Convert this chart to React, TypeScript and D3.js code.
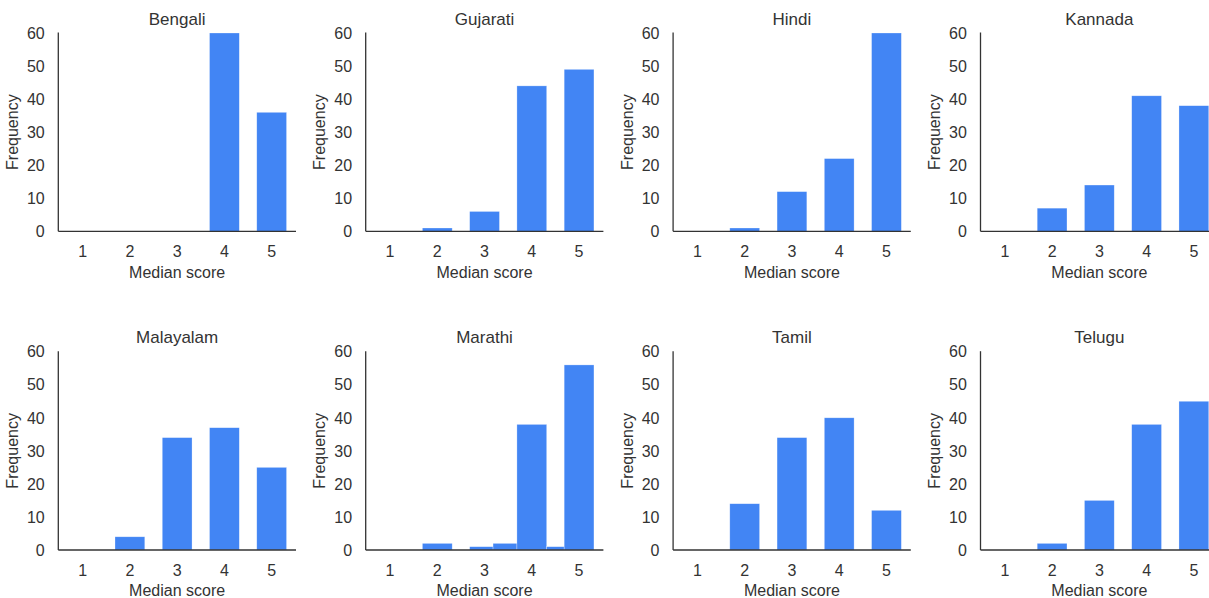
import React from "react";
import * as d3 from "d3";

const languages = ["Bengali", "Gujarati", "Hindi", "Kannada", "Malayalam", "Marathi", "Tamil", "Telugu"];
const scores = [1, 2, 3, 4, 5];
const bengali = [0, 0, 0, 60, 36];
const gujarati = [0, 1, 6, 44, 49];
const hindi = [0, 1, 12, 22, 60];
const kannada = [0, 7, 14, 41, 38];
const malayalam = [0, 4, 34, 37, 25];
const tamil = [0, 14, 34, 40, 12];
const telugu = [0, 2, 15, 38, 45];
// Marathi has half-point medians; bin edges
const marathiBins = [
  { x0: 1.685, x1: 2.315, n: 2 },
  { x0: 2.685, x1: 3.18, n: 1 },
  { x0: 3.18, x1: 3.685, n: 2 },
  { x0: 3.685, x1: 4.315, n: 38 },
  { x0: 4.315, x1: 4.685, n: 1 },
  { x0: 4.685, x1: 5.315, n: 56 },
];
const yTicks = [0, 10, 20, 30, 40, 50, 60];
const xTicks = [1, 2, 3, 4, 5];

const HALF = 0.315;
function intBins(counts: number[]) {
  return scores.map((s, i) => ({ x0: s - HALF, x1: s + HALF, n: counts[i] }));
}
const panelBins: Record<string, { x0: number; x1: number; n: number }[]> = {
  Bengali: intBins(bengali),
  Gujarati: intBins(gujarati),
  Hindi: intBins(hindi),
  Kannada: intBins(kannada),
  Malayalam: intBins(malayalam),
  Marathi: marathiBins,
  Tamil: intBins(tamil),
  Telugu: intBins(telugu),
};

const W = 1209;
const H = 598;
const PW = 237.7;
const PH = 198.3;
const COL0 = 58.3;
const COLSTEP = 307.4;
const ROWS = [33, 351.7];
const BLUE = "#4285F4";
const TEXT = "#333333";
const FONT = "Arial, 'Liberation Sans', Helvetica, sans-serif";

const x = d3.scaleLinear().domain([0.485, 5.515]).range([0, PW]);
const y = d3.scaleLinear().domain([0, 60]).range([PH, 0]);

function Panel({ name, left, top }: { name: string; left: number; top: number }) {
  const bins = panelBins[name];
  return (
    <g transform={`translate(${left},${top})`}>
      {bins
        .filter((b) => b.n > 0)
        .map((b, i) => (
          <rect
            key={i}
            x={x(b.x0)}
            y={y(b.n)}
            width={x(b.x1) - x(b.x0)}
            height={y(0) - y(b.n)}
            fill={BLUE}
            stroke="#ffffff"
            strokeOpacity={0.45}
            strokeWidth={0.6}
          />
        ))}
      <line x1={0} x2={0} y1={y(60) - 0.5} y2={PH} stroke="#333" strokeWidth={1.3} />
      <line x1={0} x2={PW} y1={PH} y2={PH} stroke="#333" strokeWidth={1.3} />
      {yTicks.map((t) => (
        <text
          key={t}
          x={-13.6}
          y={y(t)}
          dy="0.36em"
          textAnchor="end"
          fontSize={16}
          fill={TEXT}
          fontFamily={FONT}
        >
          {t}
        </text>
      ))}
      {xTicks.map((t) => (
        <text key={t} x={x(t)} y={PH + 26} textAnchor="middle" fontSize={16} fill={TEXT} fontFamily={FONT}>
          {t}
        </text>
      ))}
      <text x={PW / 2} y={PH + 46.3} textAnchor="middle" fontSize={16} fill={TEXT} fontFamily={FONT}>
        Median score
      </text>
      <text
        transform={`translate(${-40.5},${PH / 2}) rotate(-90)`}
        textAnchor="middle"
        fontSize={16}
        fill={TEXT}
        fontFamily={FONT}
      >
        Frequency
      </text>
      <text x={PW / 2} y={-8.3} textAnchor="middle" fontSize={17} fill={TEXT} fontFamily={FONT}>
        {name}
      </text>
    </g>
  );
}

export default function App() {
  return (
    <svg
      width={W}
      height={H}
      viewBox={`0 0 ${W} ${H}`}
      style={{ position: "absolute", left: 0, top: 0, background: "#fff" }}
    >
      <rect width={W} height={H} fill="#fff" />
      {languages.map((name, i) => (
        <Panel key={name} name={name} left={COL0 + (i % 4) * COLSTEP} top={ROWS[Math.floor(i / 4)]} />
      ))}
    </svg>
  );
}
